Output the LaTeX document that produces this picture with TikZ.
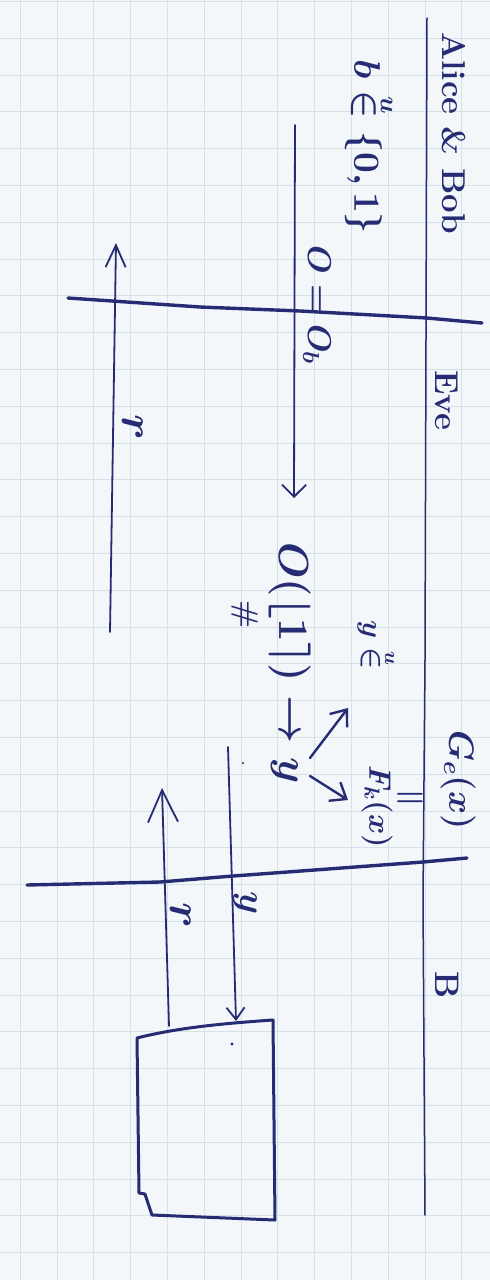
\RequirePackage{fix-cm}
\documentclass[tikz,border=0pt]{standalone}
\usepackage{amsmath}
\usetikzlibrary{arrows.meta}
\definecolor{ink}{RGB}{38,44,115}
\definecolor{paper}{RGB}{243,247,249}
\definecolor{gridc}{RGB}{212,226,232}
\begin{document}
\begin{tikzpicture}[x=1pt,y=-1pt,
  lbl/.style={text=ink,inner sep=0pt,rotate=-90},
  fs/.style={font=\fontsize{#1}{#1}\selectfont\bfseries\boldmath},
  pen/.style={draw=ink,line width=1.8pt,line cap=round,line join=round},
  heavy/.style={draw=ink,line width=3.4pt,line cap=round,line join=round},
  barb/.style 2 args={-{Straight Barb[length=#1,width=#2]}}]
\useasboundingbox (0,0) rectangle (490,1280);
\fill[paper] (0,0) rectangle (490,1280);
\foreach \i in {0,...,34} \draw[gridc,line width=0.8pt] (0,1.4+36.8*\i) -- (490,1.4+36.8*\i);
\foreach \i in {0,...,12} \draw[gridc,line width=0.8pt] (20.2+36.8*\i,0) -- (20.2+36.8*\i,1280);
% lifeline
\draw[pen,line width=1.5pt] (427,18) -- (425,660) -- (423,900) -- (425,1215);
% separators
\draw[heavy] (68,298) -- (200,307) -- (300,311) -- (427,318) -- (482,323);
\draw[heavy] (27,885) -- (160,882) -- (233,876) -- (423,862) -- (467,858);
% labels
\node[lbl,fs=33] (alice) at (454,133) {Alice \& Bob};
\node[lbl,fs=37] (bset) at (370,147) {$b \overset{u}{\in} \{0,1\}$};
\node[lbl,fs=33] (oeq) at (317,305) {$O = O_b$};
\node[lbl,fs=33] (eve) at (447,400) {Eve};
\node[lbl,fs=42] (oexp) at (290,663) {$O(\lfloor 1\rceil)\to y$};
\node[lbl,fs=30] (scrib) at (245,615) {\#};
\node[lbl,fs=29] (yin) at (377,645) {$y \overset{u}{\in}$};
\node[lbl,fs=35] (ge) at (458,780) {$G_e(x)$};
\node[text=ink,inner sep=0pt,fs=34] (eqs) at (410,800) {$=$};
\node[lbl,fs=31] (fk) at (377,807) {$F_k(x)$};
\node[lbl,fs=34] (bob) at (447,985) {B};
\node[lbl,fs=46] (r1) at (133,427) {$r$};
\node[lbl,fs=46] (r2) at (181,915) {$r$};
\node[lbl,fs=37] (ylab) at (245,903) {$y$};
% connectors
\coordinate (a1s) at (295,125); \coordinate (a1e) at (294,498);
\draw[pen,barb={12pt}{24pt}] (a1s) -- (a1e);
\coordinate (r1s) at (110,632); \coordinate (r1e) at (116,243);
\draw[pen,barb={22pt}{20pt}] (r1s) -- (r1e);
\coordinate (ya) at (310,758); \coordinate (yae) at (348,708);
\coordinate (yb) at (310,776); \coordinate (ybe) at (348,800);
\draw[pen,line width=2.4pt,barb={14pt}{22pt}] (ya) -- (yae);
\draw[pen,line width=2.4pt,barb={14pt}{22pt}] (yb) -- (ybe);
\coordinate (ys) at (228,747); \coordinate (ye) at (236,1021);
\draw[pen,barb={12pt}{18pt}] (ys) -- (ye);
\coordinate (r2s) at (169,1026); \coordinate (r2e) at (162,788);
\draw[pen,barb={32pt}{30pt}] (r2s) -- (r2e);
% box
\draw[heavy,line width=3pt] (137,1038) .. controls (180,1027) and (230,1023) .. (273,1020) -- (275,1220) -- (152,1215) -- (145,1194) -- (139,1193) -- cycle;
\fill[ink] (232,1044) circle (1.6);
\fill[ink] (243,763) circle (1.2);
\end{tikzpicture}
\end{document}
